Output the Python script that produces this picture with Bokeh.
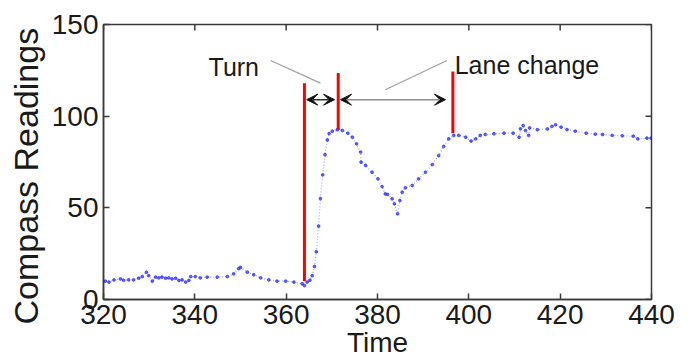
import math
from bokeh.plotting import figure
from bokeh.models import (FixedTicker, Arrow, VeeHead, Label, ColumnDataSource)
from bokeh.embed import file_html
from bokeh.resources import INLINE

# ---- data ----
time = [320.4, 321.2, 322.3, 323.7, 324.4, 325.5, 326.6, 327.7, 328.5, 329.4,
        329.9, 330.7, 331.4, 332.1, 332.8, 333.6, 334.3, 335.0, 335.8, 336.5,
        337.2, 338.0, 338.7, 339.1, 340.1, 341.2, 342.7, 344.9, 347.1, 348.5,
        349.6, 350.0, 351.5, 352.9, 354.4, 356.2, 358.0, 359.9, 361.7, 363.5,
        364.0, 364.6, 365.2, 365.7, 366.2, 366.6, 367.1, 367.5, 368.0, 368.5,
        369.0, 369.4, 370.1, 371.2, 372.3, 373.5, 374.5, 375.4, 376.3, 376.4,
        377.4, 378.8, 380.1, 381.0, 381.7, 382.2, 383.2, 383.7, 384.4, 384.9,
        385.4, 386.1, 387.6, 389.0, 390.5, 392.0, 393.4, 394.5, 395.6, 396.7,
        397.8, 399.3, 400.5, 401.5, 402.5, 403.6, 405.5, 407.7, 409.7, 411.0,
        411.3, 411.9, 412.4, 413.1, 413.3, 415.0, 417.2, 418.2, 419.0, 420.2,
        421.5, 423.3, 425.7, 427.7, 429.3, 431.4, 433.6, 436.0, 437.0, 439.0,
        439.9]
compass = [10.0, 9.5, 10.7, 11.2, 10.5, 10.7, 10.7, 11.6, 12.5, 14.9,
           13.0, 10.0, 12.2, 11.8, 12.2, 11.6, 11.8, 11.2, 11.6, 10.4,
           10.7, 9.5, 10.4, 12.5, 12.5, 11.8, 12.2, 12.2, 12.5, 14.0,
           16.8, 17.5, 14.9, 13.5, 11.8, 10.7, 10.0, 10.0, 9.5, 8.6,
           7.6, 9.5, 10.5, 13.0, 18.0, 26.0, 40.0, 55.0, 68.0, 79.0,
           87.0, 90.5, 91.8, 92.6, 92.2, 90.7, 88.5, 84.9, 80.4, 74.9,
           73.1, 69.4, 65.8, 61.6, 57.6, 57.3, 54.9, 52.2, 46.7, 54.0,
           58.5, 60.9, 62.2, 65.8, 69.4, 73.6, 78.5, 83.5, 87.6, 89.5,
           89.5, 88.5, 86.4, 87.6, 89.5, 90.0, 90.4, 90.7, 90.7, 88.5,
           93.1, 94.9, 92.2, 89.5, 93.6, 92.6, 93.0, 94.4, 95.3, 94.0,
           92.7, 91.8, 90.7, 90.2, 90.0, 89.5, 89.3, 89.1, 87.6, 88.0,
           88.0]

# event markers (red vertical bars)
event_t = [364.0, 371.4, 396.5]
event_lo = [10.0, 92.5, 90.7]
event_hi = [118.0, 123.5, 124.4]

# span arrows
arrow_x0 = [364.5, 371.9]
arrow_x1 = [370.6, 394.9]
arrow_y = [109.0, 109.0]
arrow_color = ["#333333", "#8c8c8c"]

# annotation texts and leader lines
ann_text = ["Turn", "Lane change"]
ann_x = [343.0, 396.9]
ann_y = [126.8, 127.8]
leader_x0 = [356.6, 395.2]
leader_y0 = [130.4, 130.4]
leader_x1 = [367.5, 381.7]
leader_y1 = [118.0, 114.4]

x_ticks = [320, 340, 360, 380, 400, 420, 440]
y_ticks = [0, 50, 100, 150]
x_label = "Time"
y_label = "Compass Readings"

FONT = "Liberation Sans"
TXT = "#1a1a1a"
AX = "#3a3a3a"

p = figure(width=694, height=362, x_range=(x_ticks[0], x_ticks[-1]),
           y_range=(y_ticks[0], y_ticks[-1]),
           output_backend="svg", toolbar_location=None,
           min_border_left=103, min_border_right=43,
           min_border_top=24, min_border_bottom=63)
p.grid.visible = False
p.outline_line_color = AX
p.outline_line_width = 1.5
p.background_fill_color = "white"
p.border_fill_color = "white"

for ax in (p.xaxis[0], p.yaxis[0]):
    ax.major_tick_in = 6
    ax.major_tick_out = 0
    ax.minor_tick_in = 0
    ax.minor_tick_out = 0
    ax.axis_line_color = AX
    ax.axis_line_width = 1.5
    ax.major_tick_line_color = AX
    ax.major_tick_line_width = 1.5
    ax.major_label_text_font = FONT
    ax.major_label_text_font_size = "28px"
    ax.major_label_text_color = TXT
    ax.major_label_standoff = 5
    ax.axis_label_text_font = FONT
    ax.axis_label_text_font_style = "normal"
    ax.axis_label_text_color = TXT

p.xaxis[0].ticker = FixedTicker(ticks=x_ticks)
p.yaxis[0].ticker = FixedTicker(ticks=y_ticks)
p.xaxis[0].axis_label = x_label
p.xaxis[0].axis_label_text_font_size = "28px"
p.xaxis[0].axis_label_standoff = 0
# trailing no-break spaces push the visible title a little below the frame centre, as in the reference
p.yaxis[0].axis_label = y_label + "\u00a0\u00a0\u00a0"
p.yaxis[0].axis_label_text_font_size = "34px"
p.yaxis[0].axis_label_standoff = 4

# inward ticks on the top and right frame edges
p.ray(x=x_ticks, y=[y_ticks[-1]] * len(x_ticks), length=6, length_units="screen",
      angle=-math.pi / 2, line_color=AX, line_width=1.5)
p.ray(x=[x_ticks[-1]] * len(y_ticks), y=y_ticks, length=6, length_units="screen",
      angle=math.pi, line_color=AX, line_width=1.5)

# data curve: faint dotted connection plus dot markers
src = ColumnDataSource(dict(t=time, c=compass))
p.line("t", "c", source=src, line_color="#3a3aff", line_width=1.3,
       line_dash="1 2", line_alpha=0.45)
p.scatter("t", "c", source=src, size=2.8, fill_color="#2a2aff",
          line_color="#2a2aff", line_alpha=0.7, fill_alpha=0.7)

# red event bars
p.segment(x0=event_t, y0=event_lo, x1=event_t, y1=event_hi,
          line_color="#ff0000", line_width=3)

# leader lines
p.segment(x0=leader_x0, y0=leader_y0, x1=leader_x1, y1=leader_y1,
          line_color="#a0a0a0", line_width=1.2)

# double arrows
for x0, x1, y, col in zip(arrow_x0, arrow_x1, arrow_y, arrow_color):
    p.add_layout(Arrow(x_start=x0, y_start=y, x_end=x1, y_end=y,
                       line_color=col, line_width=1.5,
                       start=VeeHead(size=11, fill_color="#111111", line_color="#111111", line_width=1),
                       end=VeeHead(size=11, fill_color="#111111", line_color="#111111", line_width=1)))

for txt, x, y in zip(ann_text, ann_x, ann_y):
    p.add_layout(Label(x=x, y=y, text=txt, text_font=FONT, text_font_size="25px",
                       text_color=TXT, text_baseline="alphabetic", text_align="left"))

open("out.html", "w").write(file_html(p, INLINE))
